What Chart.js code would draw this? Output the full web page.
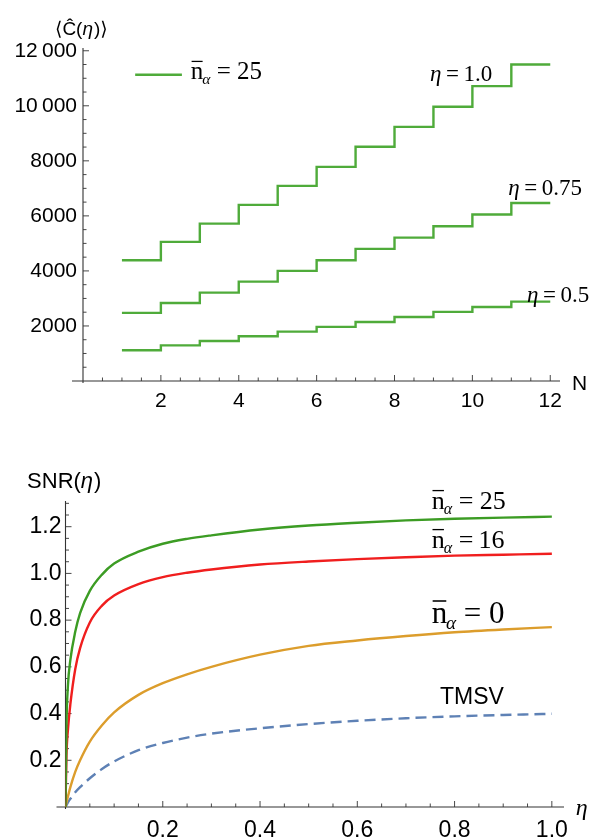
<!DOCTYPE html>
<html>
<head>
<meta charset="utf-8">
<script src="https://cdn.jsdelivr.net/npm/chart.js@4.4.1/dist/chart.umd.min.js"></script>
<style>
  html, body { margin: 0; padding: 0; background: #fff; }
  #page { position: relative; width: 607px; height: 838px; }
  .box { position: absolute; left: 0; width: 607px; }
  #top-box { top: 0; height: 420px; }
  #bottom-box { top: 420px; height: 418px; }
</style>
</head>
<body>
<div id="page">
  <div class="box" id="top-box"><canvas id="costChart" width="607" height="420"></canvas></div>
  <div class="box" id="bottom-box"><canvas id="snrChart" width="607" height="418"></canvas></div>
</div>
<script>
// top panel: <C(eta)> against number of copies N (nbar = 25), one value per step N..N+1
const copies = [1, 2, 3, 4, 5, 6, 7, 8, 9, 10, 11];
const lastCopy = 12;
const costEta100 = [4390, 5055, 5720, 6400, 7090, 7780, 8510, 9235, 9965, 10715, 11500];
const costEta075 = [2475, 2835, 3210, 3610, 4000, 4390, 4800, 5210, 5625, 6050, 6470];
const costEta050 = [1115, 1295, 1455, 1625, 1795, 1965, 2145, 2325, 2510, 2690, 2885];
const costTicksX = [2, 4, 6, 8, 10, 12];
const costTicksY = [2000, 4000, 6000, 8000, 10000, 12000];

// bottom panel: SNR(eta)
const etaValues = [0, 0.002, 0.005, 0.01, 0.02, 0.03, 0.05, 0.075, 0.1, 0.15, 0.2, 0.25, 0.3, 0.4, 0.5, 0.6, 0.7, 0.8, 0.9, 1.0];
const snrN25 = [0, 0.35, 0.52, 0.63, 0.75, 0.83, 0.925, 0.995, 1.042, 1.093, 1.127, 1.148, 1.163, 1.188, 1.205, 1.217, 1.227, 1.234, 1.239, 1.243];
const snrN16 = [0, 0.22, 0.33, 0.44, 0.59, 0.68, 0.79, 0.862, 0.905, 0.954, 0.984, 1.003, 1.017, 1.038, 1.051, 1.061, 1.069, 1.076, 1.08, 1.084];
const snrN0 = [0, 0.02, 0.045, 0.085, 0.15, 0.2, 0.28, 0.35, 0.405, 0.48, 0.53, 0.568, 0.6, 0.652, 0.69, 0.713, 0.732, 0.748, 0.76, 0.77];
const snrTmsv = [0, 0.008, 0.02, 0.035, 0.063, 0.085, 0.123, 0.163, 0.195, 0.243, 0.274, 0.297, 0.314, 0.337, 0.355, 0.369, 0.38, 0.388, 0.394, 0.399];
const snrTicksX = [0.2, 0.4, 0.6, 0.8, 1.0];
const snrTicksY = [0.2, 0.4, 0.6, 0.8, 1.0, 1.2];

const SANS = '"Liberation Sans", "DejaVu Sans", sans-serif';
const SERIF = '"Liberation Serif", "DejaVu Serif", serif';

function stepPoints(vals) {
  let pts = copies.map((n, i) => ({ x: n, y: vals[i] }));
  pts.push({ x: lastCopy, y: vals[vals.length - 1] }); // hold last step to N = 12
  return pts;
}

function curvePoints(vals) {
  return etaValues.map((e, i) => ({ x: e, y: vals[i] }));
}

function fixedTicks(list) {
  return (scale) => {
    scale.ticks = list.map((v) => ({ value: v }));
  };
}

// mathematica-like axes: lines through the origin, ticks pointing inwards
const mathAxes = {
  id: 'mathAxes',
  beforeDatasetsDraw(chart, args, opts) {
    const { ctx, chartArea: a, scales: { x, y } } = chart;
    ctx.save();
    ctx.strokeStyle = '#333';
    ctx.lineWidth = 1.1;
    ctx.beginPath();
    ctx.moveTo(a.left - opts.extLeft, a.bottom);
    ctx.lineTo(a.right, a.bottom);
    ctx.moveTo(a.left, a.top);
    ctx.lineTo(a.left, a.bottom + 2);
    ctx.stroke();
    ctx.lineWidth = 0.9;
    ctx.beginPath();
    for (let i = 1; i * opts.xMinor <= x.max + 1e-9; i++) {
      let major = i % opts.xEvery === 0;
      let px = x.getPixelForValue(i * opts.xMinor);
      ctx.moveTo(px, a.bottom);
      ctx.lineTo(px, a.bottom - (major ? 6 : 3.5));
    }
    for (let i = 1; i * opts.yMinor <= y.max + 1e-9; i++) {
      let major = i % opts.yEvery === 0;
      let py = y.getPixelForValue(i * opts.yMinor);
      ctx.moveTo(a.left, py);
      ctx.lineTo(a.left + (major ? 6 : 3.5), py);
    }
    ctx.stroke();
    ctx.restore();
  }
};

function drawEta(ctx, x, y, size, value) {
  ctx.font = `italic ${size}px ${SERIF}`;
  ctx.fillText('η', x, y);
  let w = ctx.measureText('η').width;
  ctx.font = `${size}px ${SERIF}`;
  ctx.fillText('\u2009=\u2009' + value, x + w, y);
}

function drawNbar(ctx, x, y, size, rest) {
  ctx.font = `${size}px ${SERIF}`;
  ctx.fillText('n', x, y);
  let wn = ctx.measureText('n').width;
  ctx.fillRect(x + size * 0.03, y - size * 0.74, wn - size * 0.06, Math.max(1.2, size * 0.05));
  ctx.font = `italic ${size * 0.62}px ${SERIF}`;
  ctx.fillText('α', x + wn - size * 0.04, y + size * 0.2);
  let wa = ctx.measureText('α').width;
  ctx.font = `${size}px ${SERIF}`;
  ctx.fillText(rest, x + wn - size * 0.04 + wa, y);
}

const costLabels = {
  id: 'costLabels',
  afterDraw(chart) {
    const { ctx, scales: { x, y } } = chart;
    ctx.save();
    ctx.fillStyle = '#000';
    ctx.textBaseline = 'alphabetic';
    ctx.textAlign = 'left';
    // legend
    ctx.strokeStyle = '#4fab3a';
    ctx.lineWidth = 2.5;
    ctx.beginPath();
    ctx.moveTo(x.getPixelForValue(1.34), y.getPixelForValue(11127));
    ctx.lineTo(x.getPixelForValue(2.54), y.getPixelForValue(11127));
    ctx.stroke();
    drawNbar(ctx, x.getPixelForValue(2.77), y.getPixelForValue(10963), 25, ' = 25');
    drawEta(ctx, x.getPixelForValue(8.91), y.getPixelForValue(10883), 23, '1.0');
    drawEta(ctx, x.getPixelForValue(10.92), y.getPixelForValue(6763), 23, '0.75');
    drawEta(ctx, x.getPixelForValue(11.4), y.getPixelForValue(2883), 23, '0.5');
    // axis names
    ctx.font = `21px ${SANS}`;
    ctx.fillText('N', x.getPixelForValue(12.56), y.getPixelForValue(-327));
    let tx = x.getPixelForValue(-0.72), ty = y.getPixelForValue(12581);
    ctx.font = `19px ${SANS}`;
    ctx.fillText('⟨Ĉ(', tx, ty);
    tx += ctx.measureText('⟨Ĉ(').width;
    ctx.font = `italic 19px ${SANS}`;
    ctx.fillText('η', tx, ty);
    tx += ctx.measureText('η').width + 1;
    ctx.font = `19px ${SANS}`;
    ctx.fillText(')⟩', tx, ty);
    ctx.restore();
  }
};

const snrLabels = {
  id: 'snrLabels',
  afterDraw(chart) {
    const { ctx, scales: { x, y } } = chart;
    ctx.save();
    ctx.fillStyle = '#000';
    ctx.textBaseline = 'alphabetic';
    ctx.textAlign = 'left';
    drawNbar(ctx, x.getPixelForValue(0.753), y.getPixelForValue(1.275), 26, ' = 25');
    drawNbar(ctx, x.getPixelForValue(0.753), y.getPixelForValue(1.108), 26, ' =\u200916');
    drawNbar(ctx, x.getPixelForValue(0.753), y.getPixelForValue(0.787), 31, ' = 0');
    ctx.font = `23px ${SANS}`;
    ctx.fillText('TMSV', x.getPixelForValue(0.77), y.getPixelForValue(0.442));
    let tx = x.getPixelForValue(-0.079), ty = y.getPixelForValue(1.365);
    ctx.font = `22px ${SANS}`;
    ctx.fillText('SNR(', tx, ty);
    tx += ctx.measureText('SNR(').width;
    ctx.font = `italic 22px ${SANS}`;
    ctx.fillText('η', tx, ty);
    tx += ctx.measureText('η').width + 1;
    ctx.font = `22px ${SANS}`;
    ctx.fillText(')', tx, ty);
    ctx.font = `italic 24px ${SERIF}`;
    ctx.fillText('η', x.getPixelForValue(1.049), y.getPixelForValue(-0.033));
    ctx.restore();
  }
};

function stepSet(vals) {
  return {
    data: stepPoints(vals),
    stepped: true,
    borderColor: '#4fab3a',
    borderWidth: 2.4,
    pointRadius: 0,
    fill: false,
  };
}

function curveSet(vals, color, dash) {
  return {
    data: curvePoints(vals),
    borderColor: color,
    borderWidth: 2.4,
    borderDash: dash || [],
    pointRadius: 0,
    fill: false,
    cubicInterpolationMode: 'monotone',
  };
}

new Chart(document.getElementById('costChart'), {
  type: 'line',
  data: {
    datasets: [stepSet(costEta100), stepSet(costEta075), stepSet(costEta050)],
  },
  options: {
    responsive: false,
    animation: false,
    layout: { padding: { top: 48, right: 47, left: 0, bottom: 0 } },
    plugins: {
      legend: { display: false },
      tooltip: { enabled: false },
      mathAxes: { extLeft: 11, xMinor: 0.5, xEvery: 4, yMinor: 500, yEvery: 4 },
    },
    scales: {
      x: {
        type: 'linear',
        min: 0,
        max: 12.25,
        afterBuildTicks: fixedTicks(costTicksX),
        afterFit: (s) => { s.height = 39; },
        grid: { display: false, drawTicks: false },
        border: { display: false },
        ticks: {
          maxRotation: 0,
          autoSkip: false,
          padding: 8,
          color: '#000',
          font: { family: SANS, size: 21 },
          callback: (v) => String(v),
        },
      },
      y: {
        min: 0,
        max: 12100,
        afterBuildTicks: fixedTicks(costTicksY),
        afterFit: (s) => { s.width = 83; },
        grid: { display: false, drawTicks: false },
        border: { display: false },
        ticks: {
          autoSkip: false,
          padding: 6,
          color: '#000',
          font: { family: SANS, size: 21 },
          callback: (v) => {
            let s = String(v);
            return v >= 10000 ? s.slice(0, s.length - 3) + '\u2009' + s.slice(-3) : s;
          },
        },
      },
    },
  },
  plugins: [mathAxes, costLabels],
});

new Chart(document.getElementById('snrChart'), {
  type: 'line',
  data: {
    datasets: [
      curveSet(snrN25, '#3c9c24'),
      curveSet(snrN16, '#f01e1e'),
      curveSet(snrN0, '#dc9d2c'),
      curveSet(snrTmsv, '#5e81b5', [11, 6]),
    ],
  },
  options: {
    responsive: false,
    animation: false,
    layout: { padding: { top: 81, right: 43, left: 0, bottom: 0 } },
    plugins: {
      legend: { display: false },
      tooltip: { enabled: false },
      mathAxes: { extLeft: 9, xMinor: 0.05, xEvery: 4, yMinor: 0.05, yEvery: 4 },
    },
    scales: {
      x: {
        type: 'linear',
        min: 0,
        max: 1.025,
        afterBuildTicks: fixedTicks(snrTicksX),
        afterFit: (s) => { s.height = 31; },
        grid: { display: false, drawTicks: false },
        border: { display: false },
        ticks: {
          maxRotation: 0,
          autoSkip: false,
          padding: 10,
          color: '#000',
          font: { family: SANS, size: 23 },
          callback: (v) => v.toFixed(1),
        },
      },
      y: {
        min: 0,
        max: 1.31,
        afterBuildTicks: fixedTicks(snrTicksY),
        afterFit: (s) => { s.width = 65.5; },
        grid: { display: false, drawTicks: false },
        border: { display: false },
        ticks: {
          autoSkip: false,
          padding: 4,
          color: '#000',
          font: { family: SANS, size: 23 },
          callback: (v) => v.toFixed(1),
        },
      },
    },
  },
  plugins: [mathAxes, snrLabels],
});
</script>
</body>
</html>
